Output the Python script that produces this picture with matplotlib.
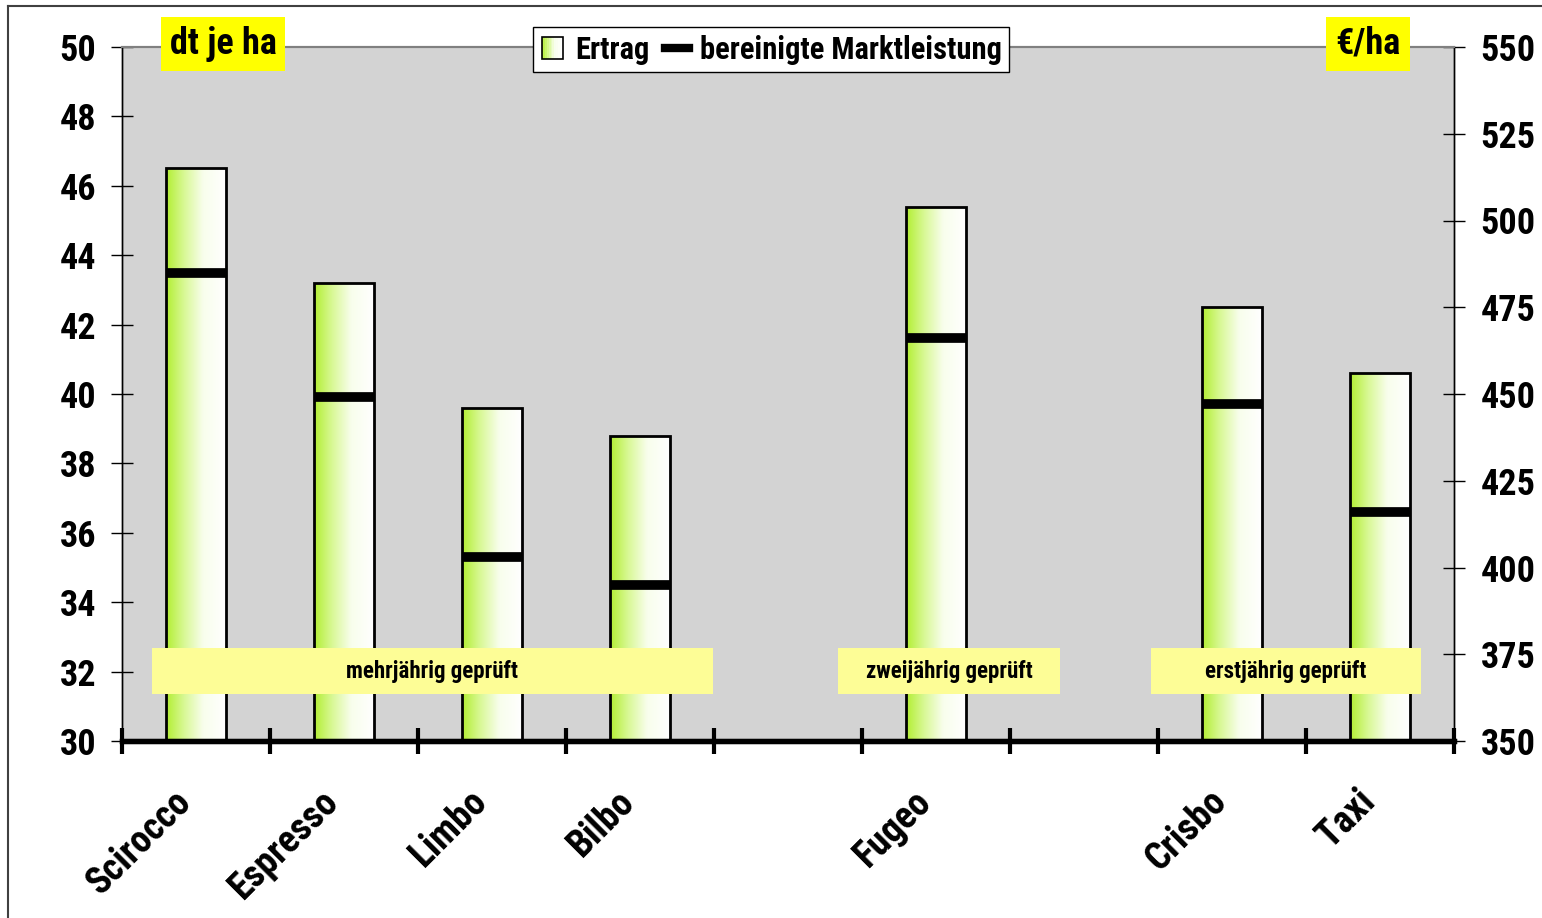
import matplotlib
matplotlib.use("Agg")
import matplotlib.pyplot as plt
import numpy as np
from matplotlib.colors import LinearSegmentedColormap
from matplotlib.lines import Line2D
from matplotlib.patches import Rectangle, Patch
from matplotlib.legend_handler import HandlerBase
from matplotlib.transforms import ScaledTranslation

plt.rcParams['font.family'] = ['Liberation Sans Narrow', 'Arial Narrow', 'Roboto Condensed',
                               'Liberation Sans', 'DejaVu Sans']
plt.rcParams['font.weight'] = 'bold'

# Data (empty slots keep the gaps between test groups)
sorten = ["Scirocco", "Espresso", "Limbo", "Bilbo", "", "Fugeo", "", "Crisbo", "Taxi"]
ertrag = [46.5, 43.2, 39.6, 38.8, np.nan, 45.4, np.nan, 42.5, 40.6]          # dt je ha
marktleistung = [485, 449, 403, 395, np.nan, 466, np.nan, 447, 416]         # €/ha

gruppen = ["mehrjährig geprüft", "zweijährig geprüft", "erstjährig geprüft"]
gruppen_x = [(-0.30, 3.49), (4.34, 5.84), (6.45, 8.28)]

YMIN, YMAX = 30, 50

cmap = LinearSegmentedColormap.from_list(
    "grad", [(0, "#b2ee32"), (0.3, "#d8f894"), (0.62, "#f8feec"), (1, "#ffffff")])

fig = plt.figure(figsize=(15.42, 9.18), dpi=100)
ax = fig.add_axes([122 / 1542, 1 - 741 / 918, 1332 / 1542, 694 / 918])
ax2 = ax.twinx()

x = np.arange(len(sorten))
ax.set_facecolor("#d3d3d3")

# bars with horizontal gradient (bars start at the axis floor)
hoehe = [v - YMIN for v in ertrag]
bars = ax.bar(x, hoehe, bottom=YMIN, width=0.4, facecolor="none",
              edgecolor="black", linewidth=2.0, zorder=3)
grad = np.linspace(0, 1, 256).reshape(1, -1)
for b in bars:
    if np.isnan(b.get_height()):
        continue
    x0, w, h = b.get_x(), b.get_width(), b.get_height()
    im = ax.imshow(grad, cmap=cmap, extent=[x0, x0 + w, YMIN, YMIN + h],
                   aspect="auto", zorder=2, interpolation="bicubic")
    im.set_clip_path(b)

ax.set_xlim(-0.5, len(sorten) - 0.5)
ax.set_ylim(YMIN, YMAX)
ax.set_yticks(range(30, 51, 2))
ax2.set_ylim(350, 550)
ax2.set_yticks(range(350, 551, 25))

# market performance markers
for xi, m in zip(x, marktleistung):
    if np.isnan(m):
        continue
    ax2.hlines(m, xi - 0.2, xi + 0.2, color="black", linewidth=7, zorder=4)

# group boxes
for label, (xa, xb) in zip(gruppen, gruppen_x):
    ax.add_patch(Rectangle((xa, 31.35), xb - xa, 1.33, facecolor="#fdfd96",
                           edgecolor="none", zorder=5))
    ax.text((xa + xb) / 2, 32.0, label, ha="center", va="center",
            fontsize=16.5, fontweight="bold", zorder=6)

# spines
for a in (ax, ax2):
    a.spines["top"].set_color("#808080")
    a.spines["top"].set_linewidth(1.5)
    a.spines["bottom"].set_linewidth(3.8)
    a.spines["left"].set_linewidth(1)
    a.spines["right"].set_linewidth(1)

# x axis: labels at centers, ticks at slot boundaries
ax.set_xticks(x)
ax.set_xticklabels(sorten, rotation=45, ha="right", rotation_mode="anchor",
                   fontsize=27, fontweight="bold")
ax.set_xticks(np.arange(-0.5, len(sorten), 1), minor=True)
ax.tick_params(axis="x", which="major", length=0, pad=30)
ax.tick_params(axis="x", which="minor", direction="inout", length=19, width=3)
for lab in ax.get_xticklabels():
    lab.set_transform(lab.get_transform() + ScaledTranslation(-17 / 72, 0, fig.dpi_scale_trans))

ax.tick_params(axis="y", direction="inout", length=16, width=1, pad=10.5,
               labelsize=26)
ax2.tick_params(axis="y", direction="inout", length=16, width=1, pad=11,
                labelsize=26)
for lab in ax.get_yticklabels() + ax2.get_yticklabels():
    lab.set_fontweight("bold")
ax2.tick_params(axis="x", which="both", length=0)

# unit labels
fig.text(223 / 1542, 1 - 44 / 918, "dt je ha", ha="center", va="center",
         fontsize=26, fontweight="bold",
         bbox=dict(boxstyle="square,pad=0.25", facecolor="#ffff00", edgecolor="none"))
fig.text(1368 / 1542, 1 - 44 / 918, "€/ha", ha="center", va="center",
         fontsize=26, fontweight="bold",
         bbox=dict(boxstyle="square,pad=0.25", facecolor="#ffff00", edgecolor="none"))


class GradientHandler(HandlerBase):
    def create_artists(self, legend, orig_handle, xdescent, ydescent, width,
                       height, fontsize, trans):
        s = height * 1.0
        x0 = -xdescent + (width - s) / 2
        y0 = -ydescent + (height - s) / 2
        arts = []
        n = 12
        for i in range(n):
            arts.append(Rectangle((x0 + s * i / n, y0), s / n + 0.3, s,
                                  facecolor=cmap(i / (n - 1)), edgecolor="none",
                                  transform=trans))
        arts.append(Rectangle((x0, y0), s, s, facecolor="none", edgecolor="black",
                              linewidth=1.2, transform=trans))
        return arts


handles = [Patch(label="Ertrag"),
           Line2D([], [], color="black", linewidth=6, label="bereinigte Marktleistung")]
leg = ax2.legend(handles=handles, handler_map={Patch: GradientHandler()},
                 loc="upper center", bbox_to_anchor=(771 / 1542, 1 - 27 / 918),
                 bbox_transform=fig.transFigure, ncol=2, fontsize=22,
                 frameon=True, fancybox=False, framealpha=1, edgecolor="black",
                 handlelength=0.8, handletextpad=0.35, columnspacing=0.5,
                 borderpad=0.25, borderaxespad=0)
leg.get_frame().set_linewidth(1)
for t in leg.get_texts():
    t.set_fontweight("bold")

# outer border
fig.add_artist(Line2D([8 / 1542, 8 / 1542], [0, 1 - 6 / 918], color="#404040", lw=1.5))
fig.add_artist(Line2D([8 / 1542, 1], [1 - 6 / 918, 1 - 6 / 918], color="#404040", lw=1.5))

fig.savefig("out.png", dpi=100, facecolor="white")
